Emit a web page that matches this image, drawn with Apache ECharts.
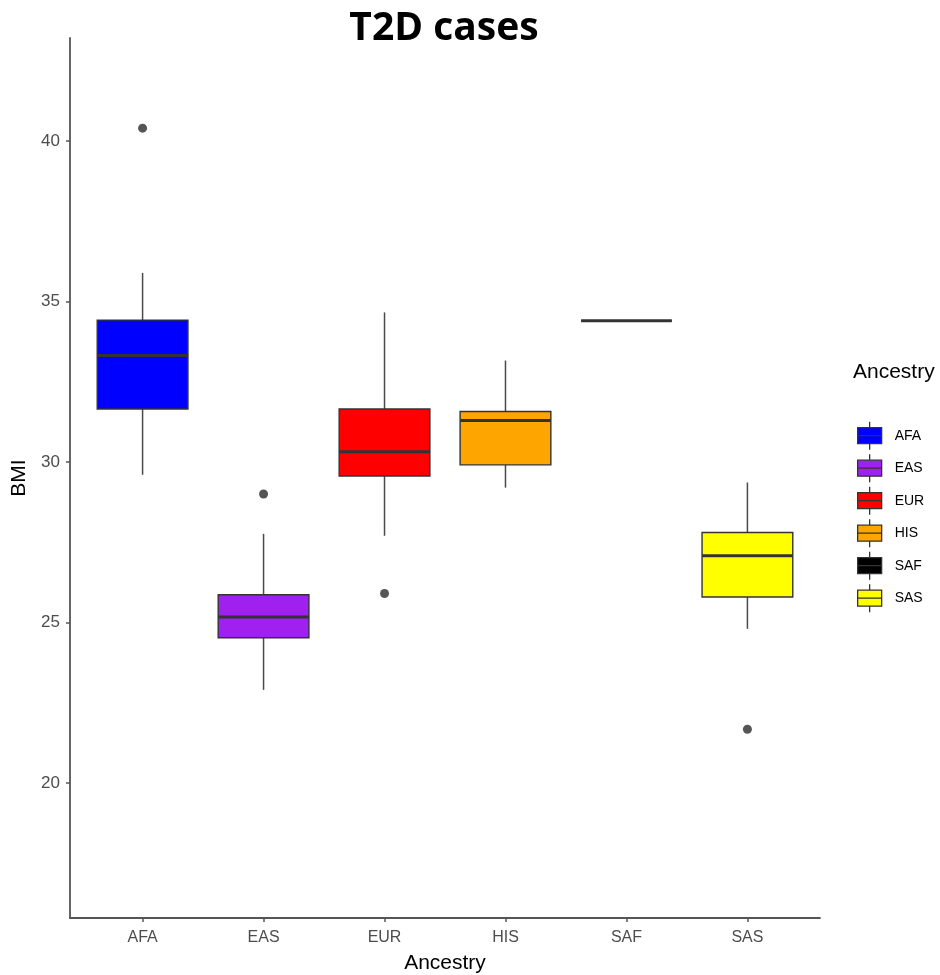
<!DOCTYPE html>
<html>
<head>
<meta charset="utf-8">
<script src="https://cdn.jsdelivr.net/npm/echarts@6/dist/echarts.min.js"></script>
<style>
html,body{margin:0;padding:0;background:#fff;}
#chart{width:940px;height:975px;}
</style>
</head>
<body>
<div id="chart"></div>
<script>
const categories = ['AFA', 'EAS', 'EUR', 'HIS', 'SAF', 'SAS'];
const colors = ['#0000FF', '#A020F0', '#FF0000', '#FFA500', '#000000', '#FFFF00'];
const minValues = [29.6, 22.9, 27.7, 29.2, 34.4, 24.8];
const q1Values = [31.65, 24.52, 29.56, 29.91, 34.4, 25.79];
const medianValues = [33.32, 25.17, 30.32, 31.29, 34.4, 27.08];
const q3Values = [34.42, 25.86, 31.65, 31.57, 34.4, 27.8];
const maxValues = [35.89, 27.76, 34.66, 33.16, 34.4, 29.36];
const outlierCategories = ['AFA', 'EAS', 'EUR', 'SAS'];
const outlierValues = [40.4, 29.0, 25.9, 21.67];
const yTicks = [20, 25, 30, 35, 40];

const AXIS_FONT = 'Liberation Sans';
const EDGE = '#333333';

function makeRenderItem(color) {
  return function (params, api) {
    const x = api.value(0);
    const pLo = api.coord([x, api.value(1)]);
    const pQ1 = api.coord([x, api.value(2)]);
    const pMed = api.coord([x, api.value(3)]);
    const pQ3 = api.coord([x, api.value(4)]);
    const pHi = api.coord([x, api.value(5)]);
    const half = api.size([0.75, 0])[0] / 2;
    return {
      type: 'group',
      children: [
        {type: 'line', shape: {x1: pHi[0], y1: pHi[1], x2: pQ3[0], y2: pQ3[1]}, style: {stroke: '#4a4a4a', lineWidth: 1.5}},
        {type: 'line', shape: {x1: pQ1[0], y1: pQ1[1], x2: pLo[0], y2: pLo[1]}, style: {stroke: '#4a4a4a', lineWidth: 1.5}},
        {type: 'rect', shape: {x: pMed[0] - half, y: pQ3[1], width: half * 2, height: pQ1[1] - pQ3[1]}, style: {fill: color, stroke: EDGE, lineWidth: 1.4}},
        {type: 'line', shape: {x1: pMed[0] - half, y1: pMed[1], x2: pMed[0] + half, y2: pMed[1]}, style: {stroke: EDGE, lineWidth: 3}}
      ]
    };
  };
}

const boxSeries = categories.map(function (name, i) {
  return {
    name: name,
    type: 'custom',
    renderItem: makeRenderItem(colors[i]),
    itemStyle: {color: colors[i], borderColor: EDGE},
    encode: {x: 0, y: [1, 2, 3, 4, 5]},
    data: [[i + 1, minValues[i], q1Values[i], medianValues[i], q3Values[i], maxValues[i]]],
    silent: true
  };
});

const outlierSeries = {
  name: 'outliers',
  type: 'scatter',
  symbolSize: 9,
  itemStyle: {color: '#2b2b2b'},
  data: outlierCategories.map(function (c, k) {
    return [categories.indexOf(c) + 1, outlierValues[k]];
  }),
  silent: true
};

const legendIcon = 'path://M0,6L24,6L24,22L0,22Z M0,14L24,14 M12,0L12,6 M12,22L12,28';

const chart = echarts.init(document.getElementById('chart'), null, {renderer: 'canvas'});
chart.setOption({
  backgroundColor: '#ffffff',
  animation: false,
  title: [
    {
      text: 'T2D cases',
      left: 439, top: 4, textAlign: 'center',
      textStyle: {fontFamily: 'Open Sans', fontWeight: 'bold', fontSize: 39, color: '#000'}
    },
    {
      text: 'Ancestry',
      left: 848, top: 357,
      textStyle: {fontFamily: AXIS_FONT, fontWeight: 'normal', fontSize: 21, color: '#000'}
    }
  ],
  legend: {
    orient: 'vertical',
    left: 852, top: 416,
    itemWidth: 24, itemHeight: 28, itemGap: 3.2,
    selectedMode: false,
    textStyle: {fontFamily: AXIS_FONT, fontSize: 14, color: '#000', padding: [0, 0, 0, 8]},
    data: categories.map(function (c, i) {
      return {name: c, icon: legendIcon, itemStyle: {color: colors[i], borderColor: EDGE, borderWidth: 1.3}};
    })
  },
  grid: {left: 70, right: 120, top: 38, bottom: 57, containLabel: false, outerBoundsMode: 'none'},
  xAxis: {
    type: 'value',
    min: 0.4, max: 6.6,
    name: 'Ancestry',
    nameLocation: 'middle',
    nameGap: 35,
    nameTextStyle: {fontFamily: AXIS_FONT, fontSize: 21, color: '#000'},
    axisLine: {show: true, lineStyle: {color: '#555', width: 1.8}},
    axisTick: {show: true, length: 4, lineStyle: {color: '#555', width: 1.5}, customValues: [1, 2, 3, 4, 5, 6]},
    axisLabel: {
      show: true, margin: 12, fontFamily: AXIS_FONT, fontSize: 16, color: '#4d4d4d',
      customValues: [1, 2, 3, 4, 5, 6],
      formatter: function (v) { return categories[Math.round(v) - 1] || ''; }
    },
    splitLine: {show: false}
  },
  yAxis: {
    type: 'value',
    min: 15.79, max: 43.21,
    name: 'BMI',
    nameLocation: 'middle',
    nameGap: 38,
    nameTextStyle: {fontFamily: AXIS_FONT, fontSize: 21, color: '#000'},
    axisLine: {show: true, lineStyle: {color: '#555', width: 1.8}},
    axisTick: {show: true, length: 4, lineStyle: {color: '#555', width: 1.5}, customValues: yTicks},
    axisLabel: {show: true, margin: 10, fontFamily: AXIS_FONT, fontSize: 17, color: '#4d4d4d', customValues: yTicks},
    splitLine: {show: false}
  },
  series: boxSeries.concat([outlierSeries])
});
</script>
</body>
</html>
